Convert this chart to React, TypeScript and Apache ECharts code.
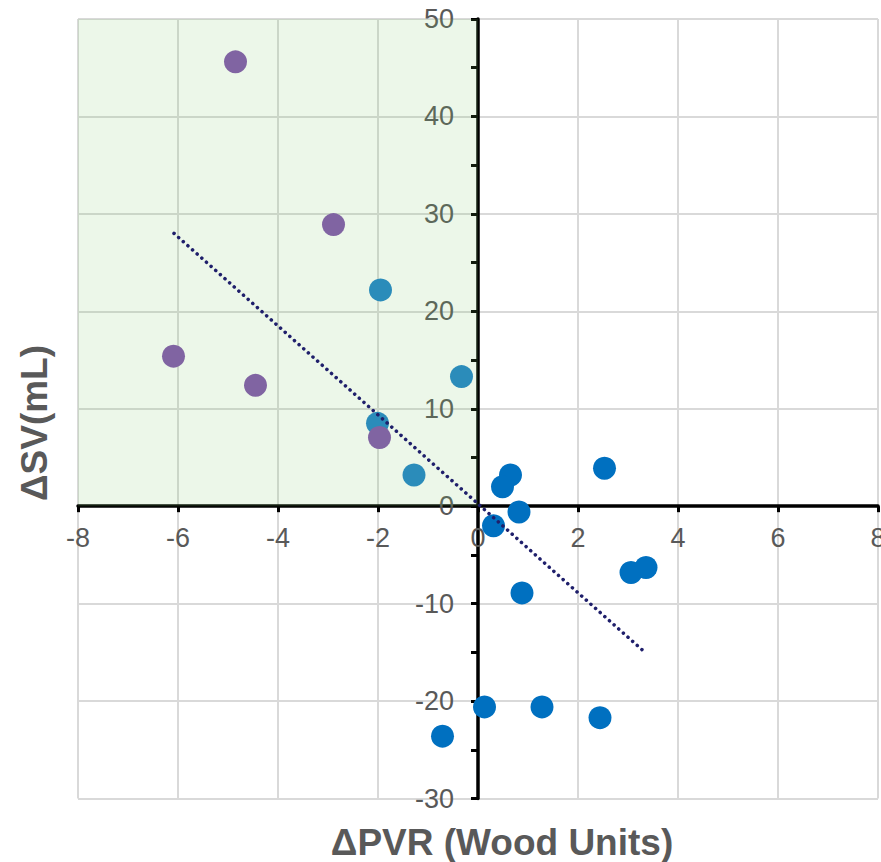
import React, { useEffect, useRef } from "react";
import * as echarts from "echarts";

const purpleX = [-4.85, -2.89, -6.09, -4.45, -1.97];
const purpleY = [45.6, 28.9, 15.4, 12.4, 7.05];
const tealX = [-1.95, -0.33, -2.01, -1.28];
const tealY = [22.2, 13.3, 8.5, 3.2];
const blueX = [0.65, 0.49, 2.53, 0.82, 0.31, 3.06, 3.36, 0.88, 0.13, 1.28, 2.44, -0.71];
const blueY = [3.2, 2.0, 3.9, -0.6, -2.0, -6.8, -6.3, -8.9, -20.6, -20.6, -21.7, -23.6];
const trendX = [-6.08, 3.34];
const trendY = [28.0, -15.0];
const shadedX = [-8, 0];
const shadedY = [0, 50];
const xTitle = "ΔPVR (Wood Units)";
const yTitle = "ΔSV(mL)";

const X_MIN = -8, X_MAX = 8, X_STEP = 2;
const Y_MIN = -30, Y_MAX = 50, Y_STEP = 10;

const FONT = "'Liberation Sans', Arial, sans-serif";
const GRAY = "#595959";

const GRID_LEFT = 78, GRID_RIGHT = 3, GRID_TOP = 19, GRID_BOTTOM = 63.5;
const W = 881, H = 862;

const pairs = (xs: number[], ys: number[]) => xs.map((x, i) => [x, ys[i]]);

export default function App() {
  const ref = useRef<HTMLDivElement>(null);
  useEffect(() => {
    if (!ref.current) return;
    const chart = echarts.init(ref.current, undefined, { renderer: "svg" });
    const plotW = W - GRID_LEFT - GRID_RIGHT;
    const plotH = H - GRID_TOP - GRID_BOTTOM;
    // distance of zero lines from grid edges
    const yZeroFromBottom = (0 - Y_MIN) / (Y_MAX - Y_MIN) * plotH;
    const xZeroFromLeft = (0 - X_MIN) / (X_MAX - X_MIN) * plotW;
    const dot = { symbol: "circle", symbolSize: 23 };
    const labelStyle = { color: GRAY, fontSize: 27, fontFamily: FONT };
    chart.setOption({
      animation: false,
      backgroundColor: "#ffffff",
      grid: {
        left: GRID_LEFT, right: GRID_RIGHT, top: GRID_TOP, bottom: GRID_BOTTOM,
        containLabel: false, outerBoundsMode: "none",
      },
      xAxis: [
        {
          type: "value", min: X_MIN, max: X_MAX, interval: X_STEP,
          axisLine: { show: true, onZero: true, lineStyle: { color: "#000", width: 3.5 } },
          axisTick: { show: true, inside: false, length: 6, lineStyle: { color: "#000", width: 3 } },
          axisLabel: { show: false },
          splitLine: { show: true, lineStyle: { color: "#D9D9D9", width: 2 } },
        },
        {
          type: "value", min: X_MIN, max: X_MAX, interval: X_STEP,
          position: "bottom", offset: -yZeroFromBottom,
          axisLine: { show: false }, axisTick: { show: false }, splitLine: { show: false },
          axisLabel: { ...labelStyle, margin: 18 },
        },
      ],
      yAxis: [
        {
          type: "value", min: Y_MIN, max: Y_MAX, interval: Y_STEP,
          axisLine: { show: true, onZero: true, lineStyle: { color: "#000", width: 3.5 } },
          axisTick: { show: true, inside: false, length: 7, lineStyle: { color: "#000", width: 3 } },
          minorTick: { show: true, splitNumber: 2, length: 7, lineStyle: { color: "#000", width: 3 } },
          axisLabel: { show: false },
          splitLine: { show: true, lineStyle: { color: "#D9D9D9", width: 2 } },
        },
        {
          type: "value", min: Y_MIN, max: Y_MAX, interval: Y_STEP,
          position: "left", offset: -xZeroFromLeft,
          axisLine: { show: false }, axisTick: { show: false }, splitLine: { show: false },
          axisLabel: { ...labelStyle, margin: 24 },
        },
      ],
      graphic: [
        {
          type: "text", x: 502, y: 842,
          style: { text: xTitle, fill: GRAY, font: `bold 37px ${FONT}`, align: "center", verticalAlign: "middle" },
        },
        {
          type: "text", x: 34, y: 423, rotation: Math.PI / 2,
          style: { text: yTitle, fill: GRAY, font: `bold 37px ${FONT}`, align: "center", verticalAlign: "middle" },
        },
      ],
      series: [
        {
          type: "scatter", ...dot,
          data: pairs(blueX, blueY),
          itemStyle: { color: "#0070C0", opacity: 1 },
          z: 3,
          markArea: {
            silent: true,
            itemStyle: { color: "rgba(120,200,100,0.14)" },
            data: [[{ coord: [shadedX[0], shadedY[0]] }, { coord: [shadedX[1], shadedY[1]] }]],
          },
        },
        {
          type: "scatter", ...dot,
          data: pairs(tealX, tealY),
          itemStyle: { color: "#2B8CBA", opacity: 1 },
          z: 4,
        },
        {
          type: "scatter", ...dot,
          data: pairs(purpleX, purpleY),
          itemStyle: { color: "#8064A2", opacity: 1 },
          z: 5,
        },
        {
          type: "line",
          data: pairs(trendX, trendY),
          symbol: "none",
          lineStyle: { color: "#1F1F6B", width: 3.5, type: [0.1, 6.1], cap: "round" },
          z: 6,
        },
      ],
    });
    return () => chart.dispose();
  }, []);
  return (
    <div ref={ref} style={{ position: "fixed", left: 0, top: 0, width: W, height: H }} />
  );
}
